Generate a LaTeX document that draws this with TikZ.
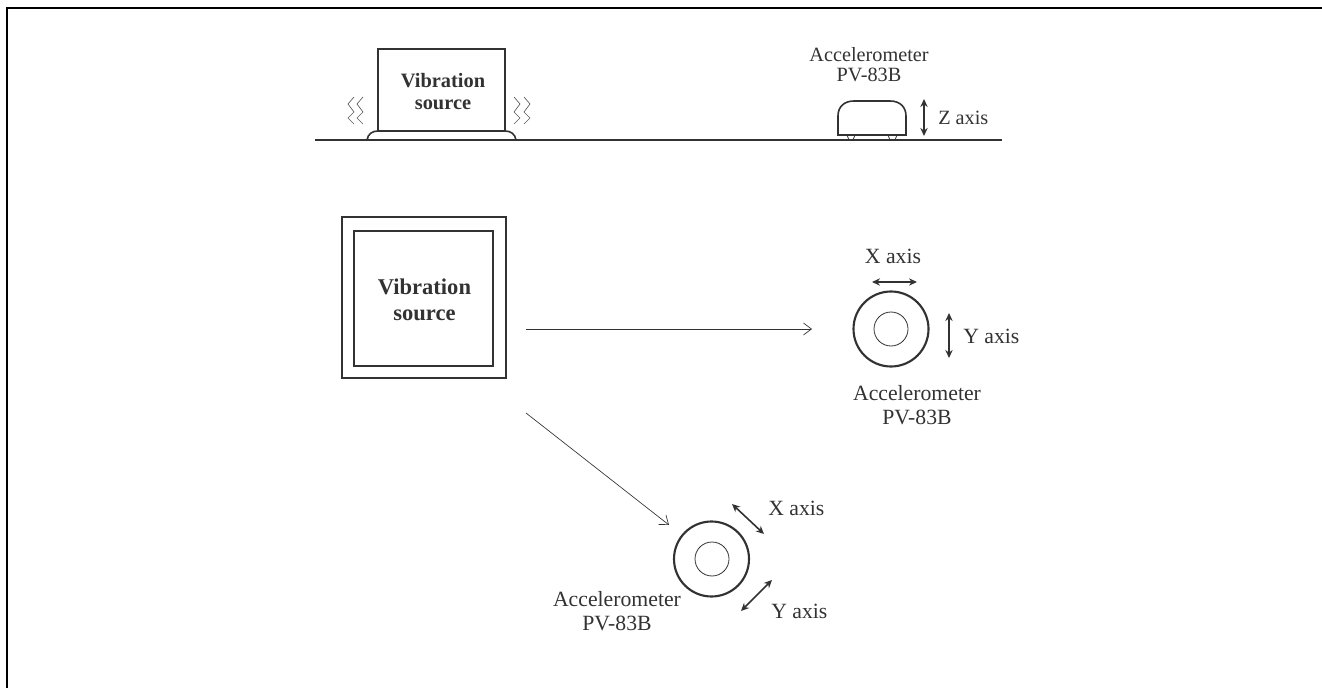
\documentclass[tikz,border=0pt]{standalone}
\usepackage{fontspec}
\setmainfont{Liberation Serif}
\usetikzlibrary{arrows.meta}
\definecolor{ink}{RGB}{50,50,50}
\tikzset{
  px/.style={x=0.75pt,y=-0.75pt},
  lblsmall/.style={font=\fontsize{15.2pt}{15pt}\selectfont,text=ink,align=center,inner sep=0pt},
  lbl/.style={font=\fontsize{16.3pt}{18pt}\selectfont,text=ink,align=center,inner sep=0pt},
  boldlbl/.style={font=\fontsize{16.9pt}{19.5pt}\selectfont\bfseries,text=ink,align=center,inner sep=0pt},
  boldsmall/.style={font=\fontsize{15.3pt}{16pt}\selectfont\bfseries,text=ink,align=center,inner sep=0pt},
  thick ink/.style={draw=ink,line width=1.2pt},
  ring/.style={circle,draw=ink,line width=1.6pt,inner sep=0pt,minimum size=75pt*0.75},
  core/.style={circle,draw=ink,line width=0.6pt,inner sep=0pt,minimum size=34pt*0.75},
  axisarrow/.style={draw=ink,line width=1.2pt,{Stealth[length=6pt,width=5.5pt]}-{Stealth[length=6pt,width=5.5pt]}},
  thinarrow/.style={draw=ink,line width=0.5pt,-{Straight Barb[length=6pt,width=9pt,line width=0.5pt]}},
  wave/.style={draw=ink!80,line width=0.5pt},
}
\begin{document}
\begin{tikzpicture}[px]
\useasboundingbox (0,0) rectangle (1322,688);
\draw[black,line width=1.6pt] (7,688) -- (7,8) -- (1322,8);
% side view
\coordinate (g1) at (315,140);
\coordinate (g2) at (1002,140);
\draw[thick ink] (g1) -- (g2);
\node[draw=ink,line width=1.2pt,minimum width=127pt*0.75,minimum height=82pt*0.75,inner sep=0pt] (src1) at (441.5,90) {};
\node[boldsmall] (srctxt1) at (443,91.5) {Vibration\\source};
\draw[thick ink] (378,131) .. controls (372,131) and (368,134) .. (367,140);
\draw[thick ink] (505,131) .. controls (511,131) and (515,134) .. (516,140);
\draw[wave] (354,97) -- (348,104) -- (354,112) -- (348,118) -- (354,124);
\draw[wave] (363,97) -- (357,104) -- (363,112) -- (357,118) -- (363,124);
\draw[wave] (514,97) -- (520,104) -- (514,112) -- (520,118) -- (514,124);
\draw[wave] (524,97) -- (530,104) -- (524,112) -- (530,118) -- (524,124);
\node[lblsmall] (acc1) at (869,65) {Accelerometer\\PV-83B};
\draw[thick ink] (838,135) -- (838,116) .. controls (838,106) and (845,101) .. (854,101) -- (890,101) .. controls (900,101) and (906,107) .. (906,116) -- (906,135) -- cycle;
\draw[thick ink,line width=0.6pt] (847,135) -- (849,140) (855,135) -- (853,140) (888,135) -- (890,140) (897,135) -- (895,140);
\coordinate (z1) at (924,99);
\coordinate (z2) at (924,136);
\draw[axisarrow] (z1) -- (z2);
\node[lblsmall,anchor=west] (zl) at (938,118) {Z axis};
% plan view
\node[draw=ink,line width=1.2pt,minimum width=164pt*0.75,minimum height=161pt*0.75,inner sep=0pt] (src2o) at (424,297.5) {};
\node[draw=ink,line width=1.2pt,minimum width=139pt*0.75,minimum height=135pt*0.75,inner sep=0pt] (src2i) at (423.5,298.5) {};
\node[boldlbl] (srctxt2) at (424.5,300) {Vibration\\source};
% right sensor
\node[ring] (r1) at (891,329) {};
\node[core] (c1) at (891,329) {};
\draw[axisarrow] (872,282) -- (917,282);
\node[lbl] (xl1) at (893,256) {X axis};
\draw[axisarrow] (949,313) -- (949,358);
\node[lbl,anchor=west] (yl1) at (963,336) {Y axis};
\node[lbl] (acc2) at (917,405) {Accelerometer\\PV-83B};
\coordinate (a1) at (526,329);
\coordinate (a1e) at (812,329);
\draw[thinarrow] (a1) -- (a1e);
% lower sensor
\node[ring] (r2) at (711.5,559) {};
\node[core] (c2) at (712,559) {};
\draw[axisarrow] (732,504) -- (764,534);
\node[lbl,anchor=west] (xl2) at (768,508) {X axis};
\draw[axisarrow] (772,580) -- (741,611);
\node[lbl,anchor=west] (yl2) at (771,611) {Y axis};
\node[lbl] (acc3) at (617,611) {Accelerometer\\PV-83B};
\coordinate (a2) at (526,413);
\coordinate (a2e) at (669,525);
\draw[thinarrow] (a2) -- (a2e);
\end{tikzpicture}
\end{document}
